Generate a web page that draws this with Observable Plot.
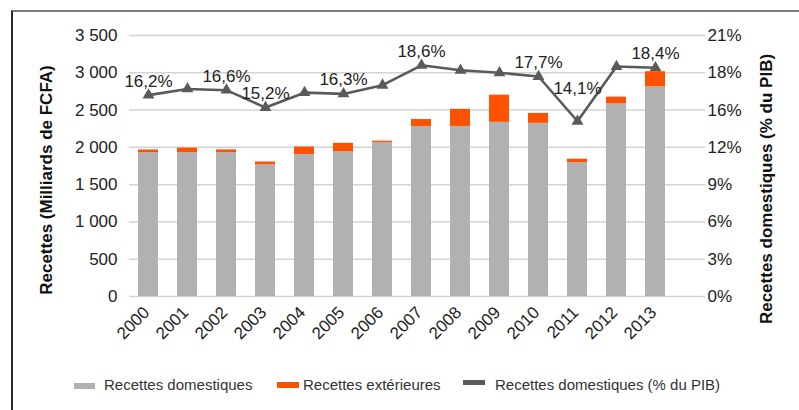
<!DOCTYPE html>
<html><head><meta charset="utf-8">
<script src="https://cdn.jsdelivr.net/npm/d3@7"></script>
<script src="https://cdn.jsdelivr.net/npm/@observablehq/plot@0.6"></script>
<style>
body{margin:0;background:#fff;font-family:"Liberation Sans",Arial,Helvetica,sans-serif;}
#wrap{position:relative;width:799px;height:410px;overflow:hidden;background:#fff;}
#frame{position:absolute;left:11px;top:10px;right:-5px;bottom:-5px;border-top:2px solid #7b7b7b;border-left:2px solid #2a2a2a;}
#chart{position:absolute;left:0;top:0;}
.ttl{position:absolute;font-weight:bold;font-size:17px;color:#111;white-space:nowrap;transform:translate(-50%,-50%) rotate(-90deg);}
.leg{position:absolute;font-size:15px;line-height:17px;color:#333;white-space:nowrap;}
.sw{position:absolute;}
</style></head><body>
<div id="wrap">
  <div id="frame"></div>
  <div id="chart"></div>
  <div id="ttlL" class="ttl" style="left:47px;top:180px;"></div>
  <div id="ttlR" class="ttl" style="left:767px;top:189px;"></div>
  <div id="legend"></div>
</div>
<script>
const years = ["2000","2001","2002","2003","2004","2005","2006","2007","2008","2009","2010","2011","2012","2013"];
const domestic = [1930,1930,1930,1766,1905,1940,2066,2280,2280,2335,2322,1795,2582,2810];
const exterior = [35,60,36,38,100,114,17,93,230,365,133,46,91,204];
const pibPct = [16.2,16.7,16.6,15.2,16.4,16.3,17.0,18.6,18.2,18.0,17.7,14.1,18.5,18.4];
const labelYears = ["2000","2002","2003","2005","2007","2010","2011","2013"];
const seriesNames = ["Recettes domestiques","Recettes extérieures","Recettes domestiques (% du PIB)"];
const leftTicks = [0,500,1000,1500,2000,2500,3000,3500];
const leftTickLabels = ["0","500","1 000","1 500","2 000","2 500","3 000","3 500"];
const rightTicks = [0,3,6,9,12,15,18,21];
const rightTickLabels = ["0%","3%","6%","9%","12%","16%","18%","21%"];
const leftTitle = "Recettes (Milliards de FCFA)";
const rightTitle = "Recettes domestiques (% du PIB)";

const colors = ["#b1b1b1","#ff5200","#5a5a5a"];
const k = 3500 / 21;

const barData = years.flatMap((y,i)=>[
  {year:y, series:seriesNames[0], value:domestic[i]},
  {year:y, series:seriesNames[1], value:exterior[i]}
]);
const lineData = years.map((y,i)=>({year:y, pct:pibPct[i]}));
const labelData = lineData.filter(d=>labelYears.includes(d.year));
const fmtPct = d => d.pct.toFixed(1).replace(".", ",") + "%";
const font = '"Liberation Sans",Arial,Helvetica,sans-serif';

const chart = Plot.plot({
  width:799, height:360,
  marginLeft:129, marginRight:94, marginTop:35, marginBottom:64,
  style:{fontFamily:font, fontSize:"17px", color:"#222", background:"transparent", overflow:"visible"},
  x:{domain:years, range:[119,684], padding:0.487, axis:null},
  y:{domain:[0,3500], axis:null},
  color:{domain:seriesNames.slice(0,2), range:colors.slice(0,2)},
  marks:[
    Plot.ruleY(leftTicks, {stroke:"#d3d3d3", strokeWidth:1.5}),
    Plot.barY(barData, {x:"year", y:"value", fill:"series", order:seriesNames.slice(0,2)}),
    Plot.line(lineData, {x:"year", y:d=>d.pct*k, stroke:colors[2], strokeWidth:2.6}),
    Plot.dot(lineData, {x:"year", y:d=>d.pct*k, symbol:"triangle", r:4.4, fill:colors[2], stroke:"none"}),
    Plot.text(labelData.filter(d=>d.year!=="2011"), {x:"year", y:d=>d.pct*k, text:fmtPct, dy:-14, fontSize:17, fill:"#222"}),
    Plot.text(labelData.filter(d=>d.year==="2011"), {x:"year", y:d=>d.pct*k, text:fmtPct, dy:-33, fontSize:17, fill:"#222"}),
    Plot.axisY(leftTicks, {anchor:"left", label:null, tickSize:0, tickPadding:12, fontSize:17, fill:"#222",
      tickFormat:d=>leftTickLabels[leftTicks.indexOf(d)]}),
    Plot.axisY(rightTicks.map(p=>p*k), {anchor:"right", label:null, tickSize:0, tickPadding:2, fontSize:17, fill:"#222",
      tickFormat:d=>rightTickLabels[Math.round(d/k/3)]}),
    Plot.text(years, {x:d=>d, frameAnchor:"bottom", rotate:-45, textAnchor:"end", dx:2, dy:17, fontSize:17, fill:"#222"})
  ]
});
document.getElementById("chart").appendChild(chart);
document.getElementById("ttlL").textContent = leftTitle;
document.getElementById("ttlR").textContent = rightTitle;

const legendItems = [
  {name:seriesNames[0], color:colors[0], sx:74, sy:383, sw:21, sh:6, tx:104},
  {name:seriesNames[1], color:colors[1], sx:277, sy:382, sw:22, sh:6, tx:303},
  {name:seriesNames[2], color:colors[2], sx:463, sy:380, sw:22, sh:5, tx:495}
];
const leg = document.getElementById("legend");
legendItems.forEach(it=>{
  const s = document.createElement("div");
  s.className="sw";
  s.style.cssText = `left:${it.sx}px;top:${it.sy}px;width:${it.sw}px;height:${it.sh}px;background:${it.color};`;
  leg.appendChild(s);
  const t = document.createElement("div");
  t.className="leg";
  t.style.cssText = `left:${it.tx}px;top:376px;`;
  t.textContent = it.name;
  leg.appendChild(t);
});
</script>
</body></html>
